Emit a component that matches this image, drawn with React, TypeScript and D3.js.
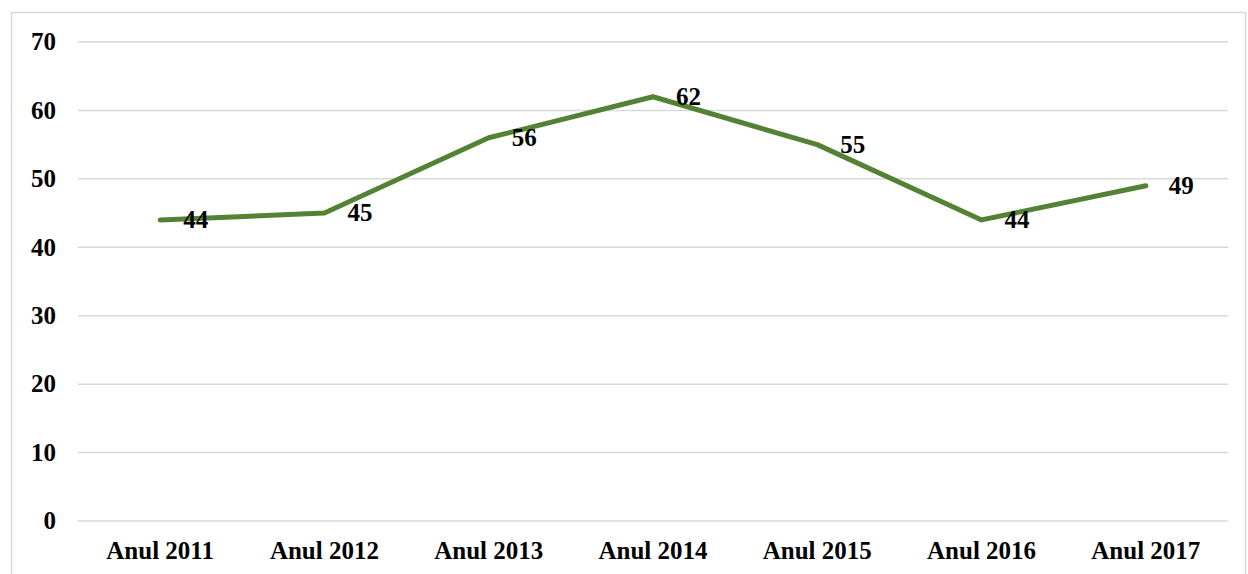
import React from 'react';
import * as d3 from 'd3';

const categories = ['Anul 2011', 'Anul 2012', 'Anul 2013', 'Anul 2014', 'Anul 2015', 'Anul 2016', 'Anul 2017'];
const values = [44, 45, 56, 62, 55, 44, 49];
const yTicks = [0, 10, 20, 30, 40, 50, 60, 70];

const W = 1248;
const H = 574;
const font = '"Liberation Serif", serif';
const fs = 25;

export default function App() {
    const x = d3.scaleBand<string>().domain(categories).range([78, 1228]);
    const y = d3.scaleLinear().domain([0, 70]).range([521, 42]);
    const cx = (c: string) => (x(c) as number) + x.bandwidth() / 2;

    const line = d3.line<number>()
        .x((d, i) => cx(categories[i]))
        .y(d => y(d));

    return (
        <svg width={W} height={H} style={{ position: 'absolute', left: 0, top: 0 }}>
            <rect x={0} y={0} width={W} height={H} fill="#fff" />
            <rect x={11.5} y={12.5} width={1234} height={600} fill="none" stroke="#d9d9d9" strokeWidth={1.5} />
            {yTicks.map(t => (
                <g key={t}>
                    <line x1={78} x2={1228} y1={y(t)} y2={y(t)} stroke="#d9d9d9" strokeWidth={1.5} />
                    <text x={56} y={y(t)} dy="0.33em" textAnchor="end"
                        fontFamily={font} fontWeight="bold" fontSize={fs} fill="#000">{t}</text>
                </g>
            ))}
            {categories.map(c => (
                <text key={c} x={cx(c)} y={559} textAnchor="middle"
                    fontFamily={font} fontWeight="bold" fontSize={fs} fill="#000">{c}</text>
            ))}
            <path d={line(values) || ''} fill="none" stroke="#548235" strokeWidth={5}
                strokeLinejoin="round" strokeLinecap="round" />
            {values.map((v, i) => (
                <text key={i} x={cx(categories[i]) + 23} y={y(v)} dy="0.33em"
                    fontFamily={font} fontWeight="bold" fontSize={fs} fill="#000">{v}</text>
            ))}
        </svg>
    );
}
